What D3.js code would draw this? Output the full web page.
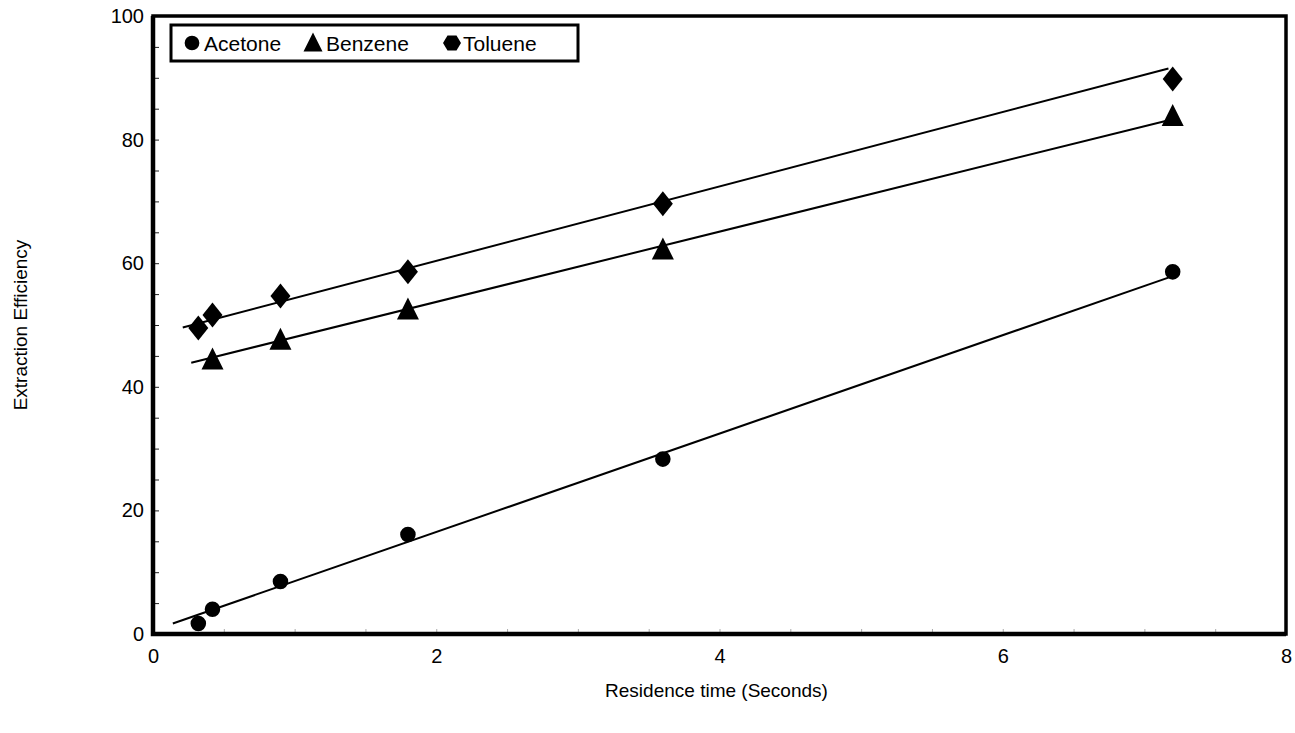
<!DOCTYPE html>
<html>
<head>
<meta charset="utf-8">
<script src="https://cdn.jsdelivr.net/npm/d3@7"></script>
<style>
  html, body { margin: 0; padding: 0; background: #fff; }
  svg { display: block; font-family: "Liberation Sans", Arial, sans-serif; }
</style>
</head>
<body>
<svg id="chart" width="1295" height="733"></svg>
<script>
// ---- data ----
const seriesNames = ["Acetone", "Benzene", "Toluene"];
const residenceTime = [0.32, 0.42, 0.9, 1.8, 3.6, 7.2];
const acetone = [1.7, 4.0, 8.5, 16.1, 28.3, 58.6];
const benzene = [null, 44.4, 47.6, 52.5, 62.2, 83.8];
const toluene = [49.5, 51.6, 54.7, 58.6, 69.6, 89.8];
// fitted trend lines: [x start, y start, x end, y end]
const acetoneFit = [0.14, 1.7, 7.2, 57.9];
const benzeneFit = [0.27, 43.9, 7.2, 83.3];
const tolueneFit = [0.21, 49.6, 7.17, 91.5];
const xTicks = [0, 2, 4, 6, 8];
const yTicks = [0, 20, 40, 60, 80, 100];
const xLabel = "Residence time (Seconds)";
const yLabel = "Extraction Efficiency";

// ---- layout ----
const svg = d3.select("#chart");
const L = 153, R = 1286, T = 16, B = 634;
const x = d3.scaleLinear().domain([0, 8]).range([L, R]);
const y = d3.scaleLinear().domain([0, 100]).range([B, T]);

// minor ticks (inside)
svg.append("g")
  .attr("transform", `translate(${L},0)`)
  .call(d3.axisRight(y).tickValues(d3.range(0, 101, 5)).tickSize(6).tickFormat(""))
  .call(g => g.select(".domain").remove())
  .call(g => g.selectAll("line").attr("stroke", "#222").attr("stroke-width", 1));
svg.append("g")
  .attr("transform", `translate(0,${B})`)
  .call(d3.axisTop(x).tickValues(d3.range(0.5, 8, 0.5)).tickSize(5).tickFormat(""))
  .call(g => g.select(".domain").remove())
  .call(g => g.selectAll("line").attr("stroke", "#aaa").attr("stroke-width", 1));

// tick labels
const yAx = svg.append("g")
  .attr("transform", `translate(${L},0)`)
  .call(d3.axisLeft(y).tickValues(yTicks).tickSize(0).tickPadding(9));
yAx.select(".domain").remove();
yAx.selectAll("text").attr("font-size", 20).attr("fill", "#000")
  .attr("font-family", "Liberation Sans, Arial, sans-serif");

const xAx = svg.append("g")
  .attr("transform", `translate(0,${B})`)
  .call(d3.axisBottom(x).tickValues(xTicks).tickSize(0).tickPadding(15));
xAx.select(".domain").remove();
xAx.selectAll("text").attr("font-size", 20).attr("fill", "#000")
  .attr("font-family", "Liberation Sans, Arial, sans-serif");

// plot frame
svg.append("rect")
  .attr("x", L).attr("y", T).attr("width", R - L).attr("height", B - T)
  .attr("fill", "none").attr("stroke", "#000").attr("stroke-width", 3.5);
svg.append("path")
  .attr("d", `M${L},${T}V${B}H${R}`)
  .attr("fill", "none").attr("stroke", "#000").attr("stroke-width", 4.5);

// axis titles
svg.append("text").attr("x", (L + R) / 2 - 3).attr("y", 697)
  .attr("text-anchor", "middle").attr("font-size", 19).text(xLabel);
svg.append("text")
  .attr("transform", `translate(27,${(T + B) / 2}) rotate(-90)`)
  .attr("text-anchor", "middle").attr("font-size", 19).text(yLabel);

// trend lines
const fits = [acetoneFit, benzeneFit, tolueneFit];
svg.append("g").selectAll("line").data(fits).join("line")
  .attr("x1", d => x(d[0])).attr("y1", d => y(d[1]))
  .attr("x2", d => x(d[2])).attr("y2", d => y(d[3]))
  .attr("stroke", "#000").attr("stroke-width", 2);

// marker shapes
const circleSym = d3.symbol().type(d3.symbolCircle).size(190);
const triPath = (cx, cy, s) => `M${cx},${cy - s * 0.55}L${cx + s / 2},${cy + s * 0.45}L${cx - s / 2},${cy + s * 0.45}Z`;
const diaPath = (cx, cy, w, h) => `M${cx},${cy - h / 2}L${cx + w / 2},${cy}L${cx},${cy + h / 2}L${cx - w / 2},${cy}Z`;
const hexPath = (cx, cy, w, h) => `M${cx - w / 2},${cy}L${cx - w / 4},${cy - h / 2}L${cx + w / 4},${cy - h / 2}L${cx + w / 2},${cy}L${cx + w / 4},${cy + h / 2}L${cx - w / 4},${cy + h / 2}Z`;

const pts = (ys) => residenceTime.map((t, i) => ({ t, v: ys[i] })).filter(d => d.v != null);

svg.append("g").selectAll("path").data(pts(acetone)).join("path")
  .attr("d", circleSym).attr("transform", d => `translate(${x(d.t)},${y(d.v)})`)
  .attr("fill", "#000");
svg.append("g").selectAll("path").data(pts(benzene)).join("path")
  .attr("d", d => triPath(x(d.t), y(d.v), 22)).attr("fill", "#000");
svg.append("g").selectAll("path").data(pts(toluene)).join("path")
  .attr("d", d => diaPath(x(d.t), y(d.v), 20, 25)).attr("fill", "#000");

// legend
const lg = svg.append("g");
lg.append("rect").attr("x", 171).attr("y", 25).attr("width", 407).attr("height", 36)
  .attr("fill", "#fff").attr("stroke", "#000").attr("stroke-width", 3);
const legendItems = [
  { name: seriesNames[0], mx: 192, tx: 204, shape: "circle" },
  { name: seriesNames[1], mx: 313, tx: 326, shape: "tri" },
  { name: seriesNames[2], mx: 452, tx: 463, shape: "hex" }
];
const ly = 43;
legendItems.forEach(it => {
  if (it.shape === "circle") lg.append("path").attr("d", d3.symbol().type(d3.symbolCircle).size(170)).attr("transform", `translate(${it.mx},${ly})`);
  if (it.shape === "tri") lg.append("path").attr("d", triPath(it.mx, ly, 19));
  if (it.shape === "hex") lg.append("path").attr("d", hexPath(it.mx, ly, 18, 15));
  lg.append("text").attr("x", it.tx).attr("y", ly + 7.5).attr("font-size", 21).text(it.name);
});
</script>
</body>
</html>
